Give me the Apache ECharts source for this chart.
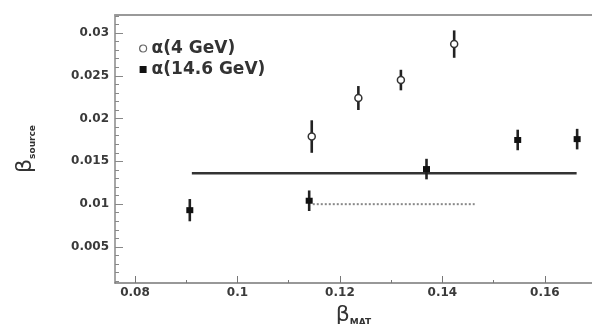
<!DOCTYPE html>
<html>
<head>
<meta charset="utf-8">
<script src="https://cdn.jsdelivr.net/npm/echarts@6/dist/echarts.min.js"></script>
<style>html,body{margin:0;padding:0;background:#fff}#c{width:592px;height:324px}</style>
</head>
<body>
<div id="c"></div>
<script>
// 4 GeV (open circles)
var xOpen = [0.1145, 0.1236, 0.1319, 0.1423];
var yOpen = [0.0179, 0.0224, 0.0245, 0.0287];
var eOpen = [0.0019, 0.0014, 0.0012, 0.0016];
// 14.6 GeV (filled)
var xFilled = [0.0907, 0.1140, 0.1369, 0.1547, 0.1663];
var yFilled = [0.0093, 0.0104, 0.0141, 0.0175, 0.0176];
var eFilled = [0.0013, 0.0012, 0.0012, 0.0012, 0.0012];
// reference lines
var solidLineX = [0.0911, 0.1662];
var solidLineY = 0.0136;
var dottedLineX = [0.1147, 0.1463];
var dottedLineY = 0.0100;
// ticks
var xMajorTicks = [0.08, 0.1, 0.12, 0.14, 0.16];
var xMinorTicks = [0.09, 0.11, 0.13, 0.15];
var yMajorTicks = [0.005, 0.01, 0.015, 0.02, 0.025, 0.03];
var yMinorTicks = [0.001,0.002,0.003,0.004,0.006,0.007,0.008,0.009,0.011,0.012,0.013,0.014,0.016,0.017,0.018,0.019,0.021,0.022,0.023,0.024,0.026,0.027,0.028,0.029,0.031,0.032];
var legendNames = ['α(4 GeV)', 'α(14.6 GeV)'];

var X_MIN = 0.0761, X_MAX = 0.1692, Y_MIN = 0.00079, Y_MAX = 0.0321;

function pairs(xs, ys) { return xs.map(function (x, i) { return [x, ys[i]]; }); }
function errData(xs, ys, es) { return xs.map(function (x, i) { return [x, ys[i] - es[i], ys[i] + es[i]]; }); }
function errRender(params, api) {
  var lo = api.coord([api.value(0), api.value(1)]);
  var hi = api.coord([api.value(0), api.value(2)]);
  return { type: 'line', shape: { x1: lo[0], y1: lo[1], x2: hi[0], y2: hi[1] },
    style: { stroke: '#222', lineWidth: 2.6 } };
}
var lbl = { fontFamily: 'DejaVu Sans', fontWeight: 'bold', fontSize: 12, color: '#3a3a3a' };
var nameRich = { b: { fontSize: 22, fontFamily: 'DejaVu Sans', color: '#333' },
                 s: { fontSize: 9, fontFamily: 'DejaVu Sans', fontWeight: 'bold', color: '#333', padding: [14, 0, 0, 0] } };

var chart = echarts.init(document.getElementById('c'));
chart.setOption({
  animation: false,
  backgroundColor: '#fff',
  grid: { left: 115, right: 0, top: 15, bottom: 41, outerBoundsMode: 'none' },
  legend: {
    orient: 'vertical', left: 134, top: 35, itemGap: 4, itemWidth: 7, itemHeight: 7,
    textStyle: { fontFamily: 'DejaVu Sans', fontWeight: 'bold', fontSize: 17, color: '#333' },
    data: [
      { name: legendNames[0], icon: 'circle', itemStyle: { color: '#fff', borderColor: '#666', borderWidth: 1.2 } },
      { name: legendNames[1], icon: 'rect', itemStyle: { color: '#111' } }
    ]
  },
  xAxis: [
    { type: 'value', min: X_MIN, max: X_MAX, position: 'bottom',
      name: '{b|β}{s|MAT}', nameLocation: 'middle', nameGap: 21,
      nameTextStyle: { rich: nameRich },
      splitLine: { show: false },
      axisLine: { onZero: false, lineStyle: { color: '#777', width: 1.5 } },
      axisTick: { inside: true, length: 7, customValues: xMajorTicks, lineStyle: { color: '#777' } },
      axisLabel: Object.assign({ customValues: xMajorTicks, margin: 4, formatter: function (v) { return String(+v.toFixed(3)); } }, lbl) },
    { type: 'value', min: X_MIN, max: X_MAX, position: 'bottom',
      splitLine: { show: false }, axisLine: { show: false },
      axisTick: { inside: true, length: 3, customValues: xMinorTicks, lineStyle: { color: '#777' } },
      axisLabel: { show: false } },
    { type: 'value', min: X_MIN, max: X_MAX, position: 'top',
      splitLine: { show: false }, axisLine: { show: true, onZero: false, lineStyle: { color: '#999', width: 2 } },
      axisTick: { show: false }, axisLabel: { show: false } }
  ],
  yAxis: [
    { type: 'value', min: Y_MIN, max: Y_MAX, position: 'left',
      name: '{b|β}{s|source}', nameLocation: 'middle', nameGap: 78, nameRotate: 90,
      nameTextStyle: { rich: nameRich },
      splitLine: { show: false },
      axisLine: { onZero: false, lineStyle: { color: '#888', width: 1.5 } },
      axisTick: { inside: true, length: 8, customValues: yMajorTicks, lineStyle: { color: '#888' } },
      axisLabel: Object.assign({ customValues: yMajorTicks, margin: 6, formatter: function (v) { return String(+v.toFixed(3)); } }, lbl) },
    { type: 'value', min: Y_MIN, max: Y_MAX, position: 'left',
      splitLine: { show: false }, axisLine: { show: false },
      axisTick: { inside: true, length: 4, customValues: yMinorTicks, lineStyle: { color: '#888' } },
      axisLabel: { show: false } }
  ],
  series: [
    { type: 'line', data: [[solidLineX[0], solidLineY], [solidLineX[1], solidLineY]], symbol: 'none',
      lineStyle: { color: '#333', width: 2.5 }, z: 1 },
    { type: 'line', data: [[dottedLineX[0], dottedLineY], [dottedLineX[1], dottedLineY]], symbol: 'none',
      lineStyle: { color: '#888', width: 2, type: [2, 2] }, z: 1 },
    { type: 'custom', data: errData(xOpen, yOpen, eOpen), renderItem: errRender, z: 2 },
    { type: 'custom', data: errData(xFilled, yFilled, eFilled), renderItem: errRender, z: 2 },
    { name: legendNames[0], type: 'scatter', data: pairs(xOpen, yOpen), symbol: 'circle', symbolSize: 7,
      itemStyle: { color: '#fff', borderColor: '#333', borderWidth: 1.5, opacity: 1 }, z: 3 },
    { name: legendNames[1], type: 'scatter', data: pairs(xFilled, yFilled), symbol: 'rect', symbolSize: [7, 6],
      itemStyle: { color: '#111', opacity: 1 }, z: 3 }
  ]
});
</script>
</body>
</html>
